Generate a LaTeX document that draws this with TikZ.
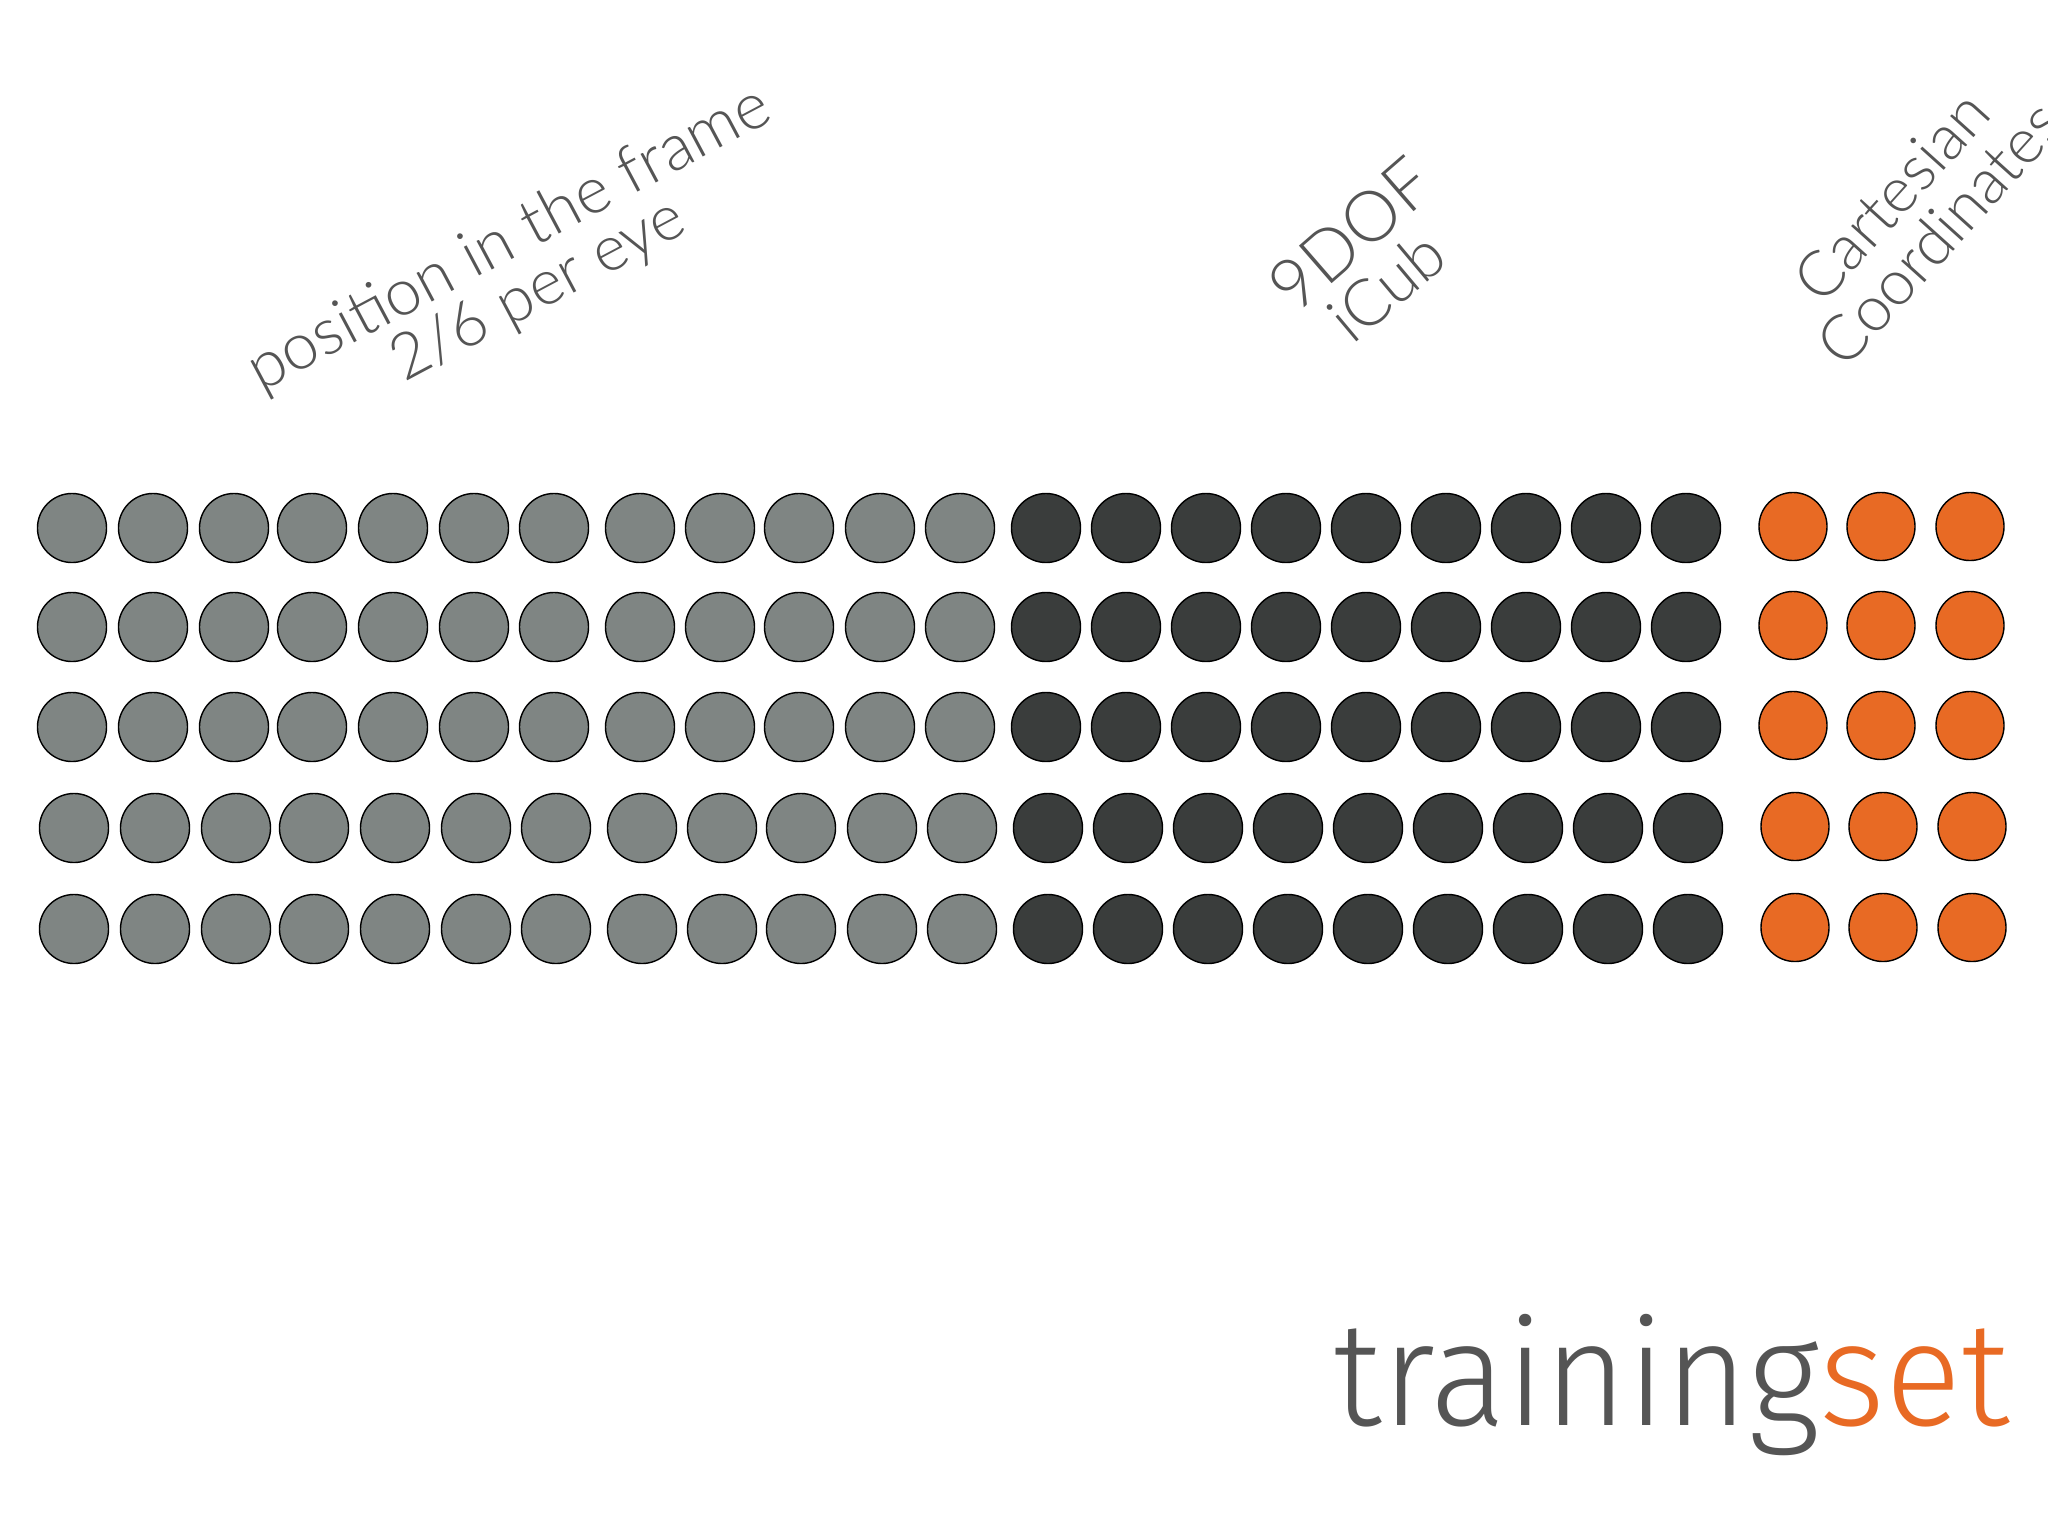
\documentclass[tikz,border=0pt]{standalone}
\usepackage{fontspec}
\setmainfont{Lato}[UprightFont=* Light]
\newfontfamily\logofont{Fira Sans}[UprightFont=* Light]
\definecolor{posgray}{HTML}{7F8583}
\definecolor{jointgray}{HTML}{3A3D3C}
\definecolor{cartorange}{HTML}{E86A24}
\definecolor{labelgray}{HTML}{555555}
\tikzset{
  unit/.style={circle, draw=black, line width=0.4pt, minimum size=0.69cm, inner sep=0pt},
  posunit/.style={unit, fill=posgray},
  jointunit/.style={unit, fill=jointgray},
  cartunit/.style={unit, fill=cartorange, minimum size=0.68cm},
  caption/.style={text=labelgray, anchor=base, inner sep=0pt, font=\fontsize{#1}{#1}\selectfont},
}
\begin{document}
\begin{tikzpicture}[x=0.01cm, y=-0.01cm]
\fill[white] (0,0) rectangle (2048,1536);
\useasboundingbox (0,0) rectangle (2048,1536);
% five samples, one row each
\foreach \r/\y/\dx in {1/528/0, 2/627/0, 3/727/0, 4/828/2, 5/929/2} {
  \foreach \x [count=\c] in {72,153,234,312,393,474,554,640,720,799,880,960}
    \node (pos-\r-\c) [posunit] at (\x+\dx,\y) {};
  \foreach \x [count=\c] in {1046,1126,1206,1286,1366,1446,1526,1606,1686}
    \node (joint-\r-\c) [jointunit] at (\x+\dx,\y) {};
  \foreach \x [count=\c] in {1793,1881,1970}
    \node (cart-\r-\c) [cartunit] at (\x+\dx,\y-1.5) {};
}
% column captions
\node (poslab1) [caption=18.5, rotate=28] at (518,256) {position in the frame};
\node (poslab2) [caption=18, rotate=28] at (547,307) {2/6 per eye};
\node (jointlab1) [caption=20, rotate=41] at (1367,253) {9DOF};
\node (jointlab2) [caption=18.5, rotate=40] at (1402,304) {iCub};
\node (cartlab1) [caption=18, rotate=48] at (1908,211) {Cartesian};
\node (cartlab2) [caption=18, rotate=48] at (1956,248) {Coordinates};
% title
\node (title) [anchor=base west, inner sep=0pt, font=\logofont\fontsize{42}{48}\selectfont]
  at (1333,1425) {\scalebox{0.96}[1]{\textcolor{labelgray}{training}\textcolor{cartorange}{set}}};
\end{tikzpicture}
\end{document}
